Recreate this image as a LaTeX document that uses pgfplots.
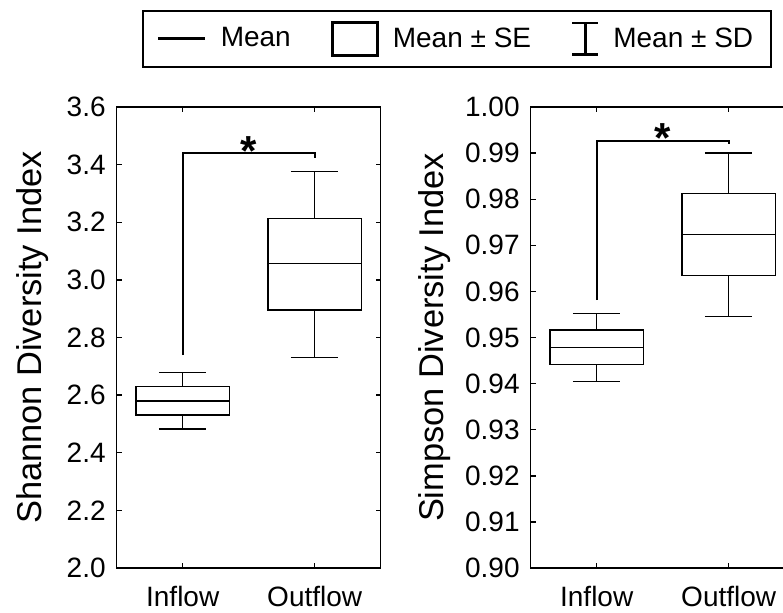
\documentclass[border=0pt]{standalone}
\usepackage{pgfplots}
\pgfplotsset{compat=1.18}
\usepgfplotslibrary{statistics}
\usepackage{fontspec}
\setmainfont{Liberation Sans}

% shared look of both panels (1 px of the reference = 0.5pt)
\pgfplotsset{
  divplot/.style={
    width=132pt, height=230.5pt, scale only axis,
    xmin=-0.5, xmax=1.5,
    xtick={0,1}, xticklabels={Inflow,Outflow},
    tick align=inside, xtick pos=both, ytick pos=both,
    major tick length=2.5pt,
    axis line style={line width=0.7pt},
    tick style={line width=0.7pt, black},
    tick label style={font=\fontsize{14}{16}\selectfont},
    /pgf/number format/assume math mode=true,
    xticklabel style={yshift=-5.5pt},
    yticklabel style={xshift=-2pt},
    ylabel style={font=\fontsize{17.2}{19}\selectfont, anchor=base},
    boxplot/draw direction=y,
    boxplot/box extend=0.706,
    boxplot/whisker extend=0.36,
  },
  bx/.style={black, solid, line width=0.7pt, forget plot},
}
\tikzset{sigstar/.style={anchor=north, inner sep=0pt, font=\fontsize{21}{21}\selectfont\bfseries}}

\begin{document}
\begin{tikzpicture}
\begin{axis}[divplot,
    ymin=2.0, ymax=3.6, ytick={2.0,2.2,...,3.6},
    yticklabel style={/pgf/number format/.cd, fixed, fixed zerofill, precision=1},
    ylabel={Shannon Diversity Index},
    ylabel style={at={(axis description cs:-0.283,0.5)}},
    legend style={at={(1.289,1.148)}, anchor=center, legend columns=3,
      draw=black, line width=1pt, font=\fontsize{14}{16}\selectfont,
      /tikz/every odd column/.append style={column sep=5pt},
      /tikz/every even column/.append style={column sep=18pt},
      inner xsep=7pt, inner ysep=5pt},
]
\addplot[bx, boxplot prepared={draw position=0, median=2.579,
    lower quartile=2.531, upper quartile=2.629,
    lower whisker=2.483, upper whisker=2.678}] coordinates {};
\addplot[bx, boxplot prepared={draw position=1, median=3.056,
    lower quartile=2.895, upper quartile=3.213,
    lower whisker=2.730, upper whisker=3.376}] coordinates {};
% significance bracket
\addplot[black, line width=1pt, forget plot] coordinates {(0,2.739) (0,3.439) (1,3.439) (1,3.424)};
\node[sigstar] at (axis cs:0.5,3.50) {*};

\addlegendimage{legend image code/.code={\draw[line width=1.5pt] (0pt,0pt) -- (23.5pt,0pt);}}
\addlegendentry{Mean}
\addlegendimage{legend image code/.code={\draw[line width=1.5pt] (0pt,-8.2pt) rectangle (22.5pt,8.2pt);}}
\addlegendentry{Mean ± SE}
\addlegendimage{legend image code/.code={\draw[line width=1.3pt] (0pt,-7.8pt) -- (0pt,7.8pt) (-6.4pt,7.8pt) -- (6.4pt,7.8pt) (-6.4pt,-7.8pt) -- (6.4pt,-7.8pt);}}
\addlegendentry{Mean ± SD}
\end{axis}

\begin{axis}[divplot, at={(207pt,0pt)},
    ymin=0.90, ymax=1.00, ytick={0.90,0.91,...,1.00},
    yticklabel style={/pgf/number format/.cd, fixed, fixed zerofill, precision=2},
    ylabel={Simpson Diversity Index},
    ylabel style={at={(axis description cs:-0.332,0.5)}},
]
\addplot[bx, boxplot prepared={draw position=0, median=0.9478,
    lower quartile=0.9441, upper quartile=0.9516,
    lower whisker=0.9404, upper whisker=0.9552}] coordinates {};
\addplot[bx, boxplot prepared={draw position=1, median=0.9723,
    lower quartile=0.9634, upper quartile=0.9812,
    lower whisker=0.9545, upper whisker=0.9900}] coordinates {};
\addplot[black, line width=1pt, forget plot] coordinates {(0,0.9581) (0,0.9927) (1,0.9927) (1,0.9919)};
\node[sigstar] at (axis cs:0.5,0.9965) {*};
\end{axis}

% the reference is cut off at its right edge
\pgfresetboundingbox
\path[use as bounding box] (-58.35pt,-22pt) rectangle (333.15pt,284pt);
\end{tikzpicture}
\end{document}
